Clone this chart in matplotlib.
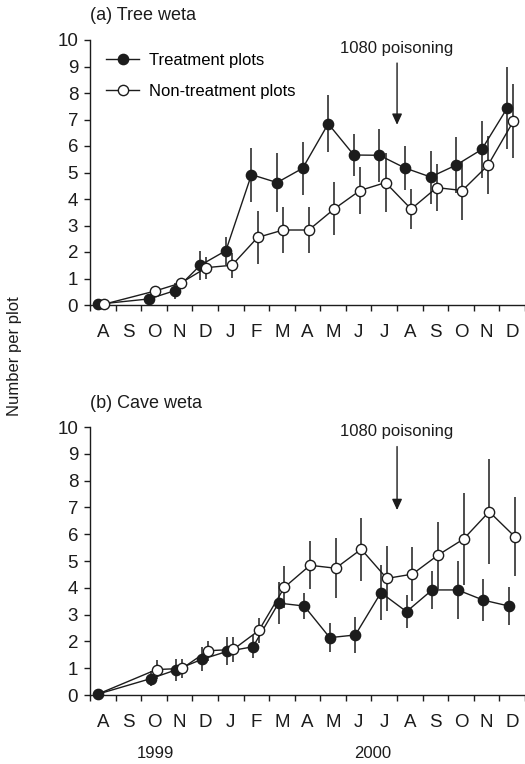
import numpy as np
import matplotlib
matplotlib.use("Agg")
import matplotlib.pyplot as plt
from matplotlib.transforms import blended_transform_factory

plt.rcParams['font.family'] = ['Liberation Sans', 'DejaVu Sans']
plt.rcParams['font.size'] = 12

INK = '#1c1c1c'

# month labels Aug 1999 - Dec 2000 and the months that were sampled
months = ['A', 'S', 'O', 'N', 'D', 'J', 'F', 'M', 'A', 'M', 'J', 'J', 'A', 'S', 'O', 'N', 'D']
sample_month = [0, 2, 3, 4, 5, 6, 7, 8, 9, 10, 11, 12, 13, 14, 15, 16]

# (a) tree weta
tree_treat = [0.03, 0.23, 0.54, 1.50, 2.05, 4.92, 4.62, 5.16, 6.84, 5.66, 5.65, 5.17, 4.83, 5.28, 5.87, 7.44]
tree_treat_se = [0.0, 0.0, 0.30, 0.55, 0.53, 1.02, 1.10, 1.00, 1.07, 0.80, 1.00, 0.82, 1.00, 1.05, 1.07, 1.55]
tree_non = [0.03, 0.53, 0.83, 1.41, 1.50, 2.55, 2.83, 2.83, 3.63, 4.32, 4.62, 3.62, 4.43, 4.32, 5.27, 6.94]
tree_non_se = [0.0, 0.0, 0.0, 0.42, 0.48, 1.00, 0.85, 0.85, 1.00, 0.90, 1.10, 0.77, 0.90, 1.10, 1.10, 1.40]

# (b) cave weta
cave_treat = [0.03, 0.61, 0.94, 1.33, 1.63, 1.80, 3.43, 3.32, 2.14, 2.24, 3.82, 3.11, 3.92, 3.92, 3.54, 3.32]
cave_treat_se = [0.0, 0.27, 0.42, 0.45, 0.52, 0.43, 0.78, 0.49, 0.53, 0.66, 1.04, 0.62, 0.72, 1.08, 0.79, 0.70]
cave_non = [0.03, 0.95, 0.99, 1.65, 1.70, 2.41, 4.02, 4.84, 4.73, 5.44, 4.35, 4.51, 5.22, 5.82, 6.84, 5.91]
cave_non_se = [0.0, 0.35, 0.37, 0.37, 0.45, 0.46, 0.78, 0.90, 1.12, 1.17, 1.20, 1.00, 1.25, 1.70, 1.95, 1.48]

poison_month = 12  # end of July 2000
years = ['1999', '2000']
year_pos = [2.57, 11.03]


def draw_series(ax, x, y, se, filled, label=None, skip_first_marker=False):
    x = np.asarray(x, dtype=float)
    ax.errorbar(x, y, yerr=se, fmt='none', ecolor=INK, elinewidth=1.1,
                capsize=0, zorder=2, clip_on=False)
    mk = slice(1, None) if skip_first_marker else None
    ax.plot(x, y, color=INK, lw=1.0, marker='o', ms=7.4,
            mfc=INK if filled else 'white', mec=INK, mew=1.0,
            markevery=mk, label=label, zorder=4 if not filled else 3, clip_on=False)


def style_axes(ax):
    ax.set_xlim(0, 17)
    ax.set_ylim(0, 10)
    for s in ['top', 'right']:
        ax.spines[s].set_visible(False)
    for s in ['left', 'bottom']:
        ax.spines[s].set_color(INK)
        ax.spines[s].set_linewidth(1.0)
    ax.set_yticks(range(0, 11))
    ax.tick_params(axis='y', direction='out', length=4.5, width=1.0, pad=4.0,
                   colors=INK, labelsize=13.5)
    ax.set_xticks(range(0, 18))
    ax.set_xticklabels([])
    ax.set_xticks(np.arange(len(months)) + 0.5, minor=True)
    ax.set_xticklabels(months, minor=True)
    ax.tick_params(axis='x', which='major', direction='out', length=4.2, width=1.0, colors=INK)
    ax.tick_params(axis='x', which='minor', length=0, pad=13.5, labelsize=13.5, colors=INK)


def poison_arrow(ax, y_text, y_top, y_tip):
    ax.annotate('', xy=(poison_month, y_tip), xytext=(poison_month, y_top),
                arrowprops=dict(arrowstyle='-|>,head_length=0.65,head_width=0.3',
                                mutation_scale=10, lw=1.0, color=INK,
                                shrinkA=0, shrinkB=0))
    ax.text(poison_month, y_text, '1080 poisoning', ha='center', va='center',
            fontsize=12, color=INK)


fig = plt.figure(figsize=(5.25, 7.64), dpi=100)
ax1 = fig.add_axes([90 / 525, 1 - 305 / 764, 435 / 525, 265 / 764])
ax2 = fig.add_axes([90 / 525, 1 - 695 / 764, 435 / 525, 268 / 764])

m = np.array(sample_month, dtype=float)

# panel a
draw_series(ax1, m + 0.31, tree_treat, tree_treat_se, True, 'Treatment plots')
draw_series(ax1, m + 0.55, tree_non, tree_non_se, False, 'Non-treatment plots')
style_axes(ax1)
poison_arrow(ax1, 9.69, 9.13, 6.8)
ax1.legend(loc='upper left', bbox_to_anchor=(106 / 525, 1 - 53 / 764),
           bbox_transform=fig.transFigure, frameon=False, numpoints=1,
           handlelength=2.0, handletextpad=0.6, labelspacing=0.95,
           borderpad=0, borderaxespad=0, fontsize=12)

# panel b (non-treatment line starts from the shared August point)
bx_t = m + 0.37
bx_t[0] = 0.3
bx_n = m + 0.6
bx_n[0] = 0.3
draw_series(ax2, bx_t, cave_treat, cave_treat_se, True)
draw_series(ax2, bx_n, cave_non, cave_non_se, False, skip_first_marker=True)
style_axes(ax2)
poison_arrow(ax2, 9.82, 9.27, 6.9)

trans = blended_transform_factory(ax2.transData, ax2.transAxes)
for yr, xp in zip(years, year_pos):
    ax2.text(xp, -58 / 268, yr, transform=trans, ha='center', va='center',
             fontsize=12, color=INK)

fig.text(90 / 525, 1 - 16 / 764, '(a) Tree weta', ha='left', va='center',
         fontsize=13, color=INK)
fig.text(90 / 525, 1 - 404 / 764, '(b) Cave weta', ha='left', va='center',
         fontsize=13, color=INK)
fig.text(15 / 525, 1 - 356 / 764, 'Number per plot', rotation=90,
         ha='center', va='center', fontsize=12, color=INK)

fig.savefig('out.png', dpi=100, facecolor='white')
